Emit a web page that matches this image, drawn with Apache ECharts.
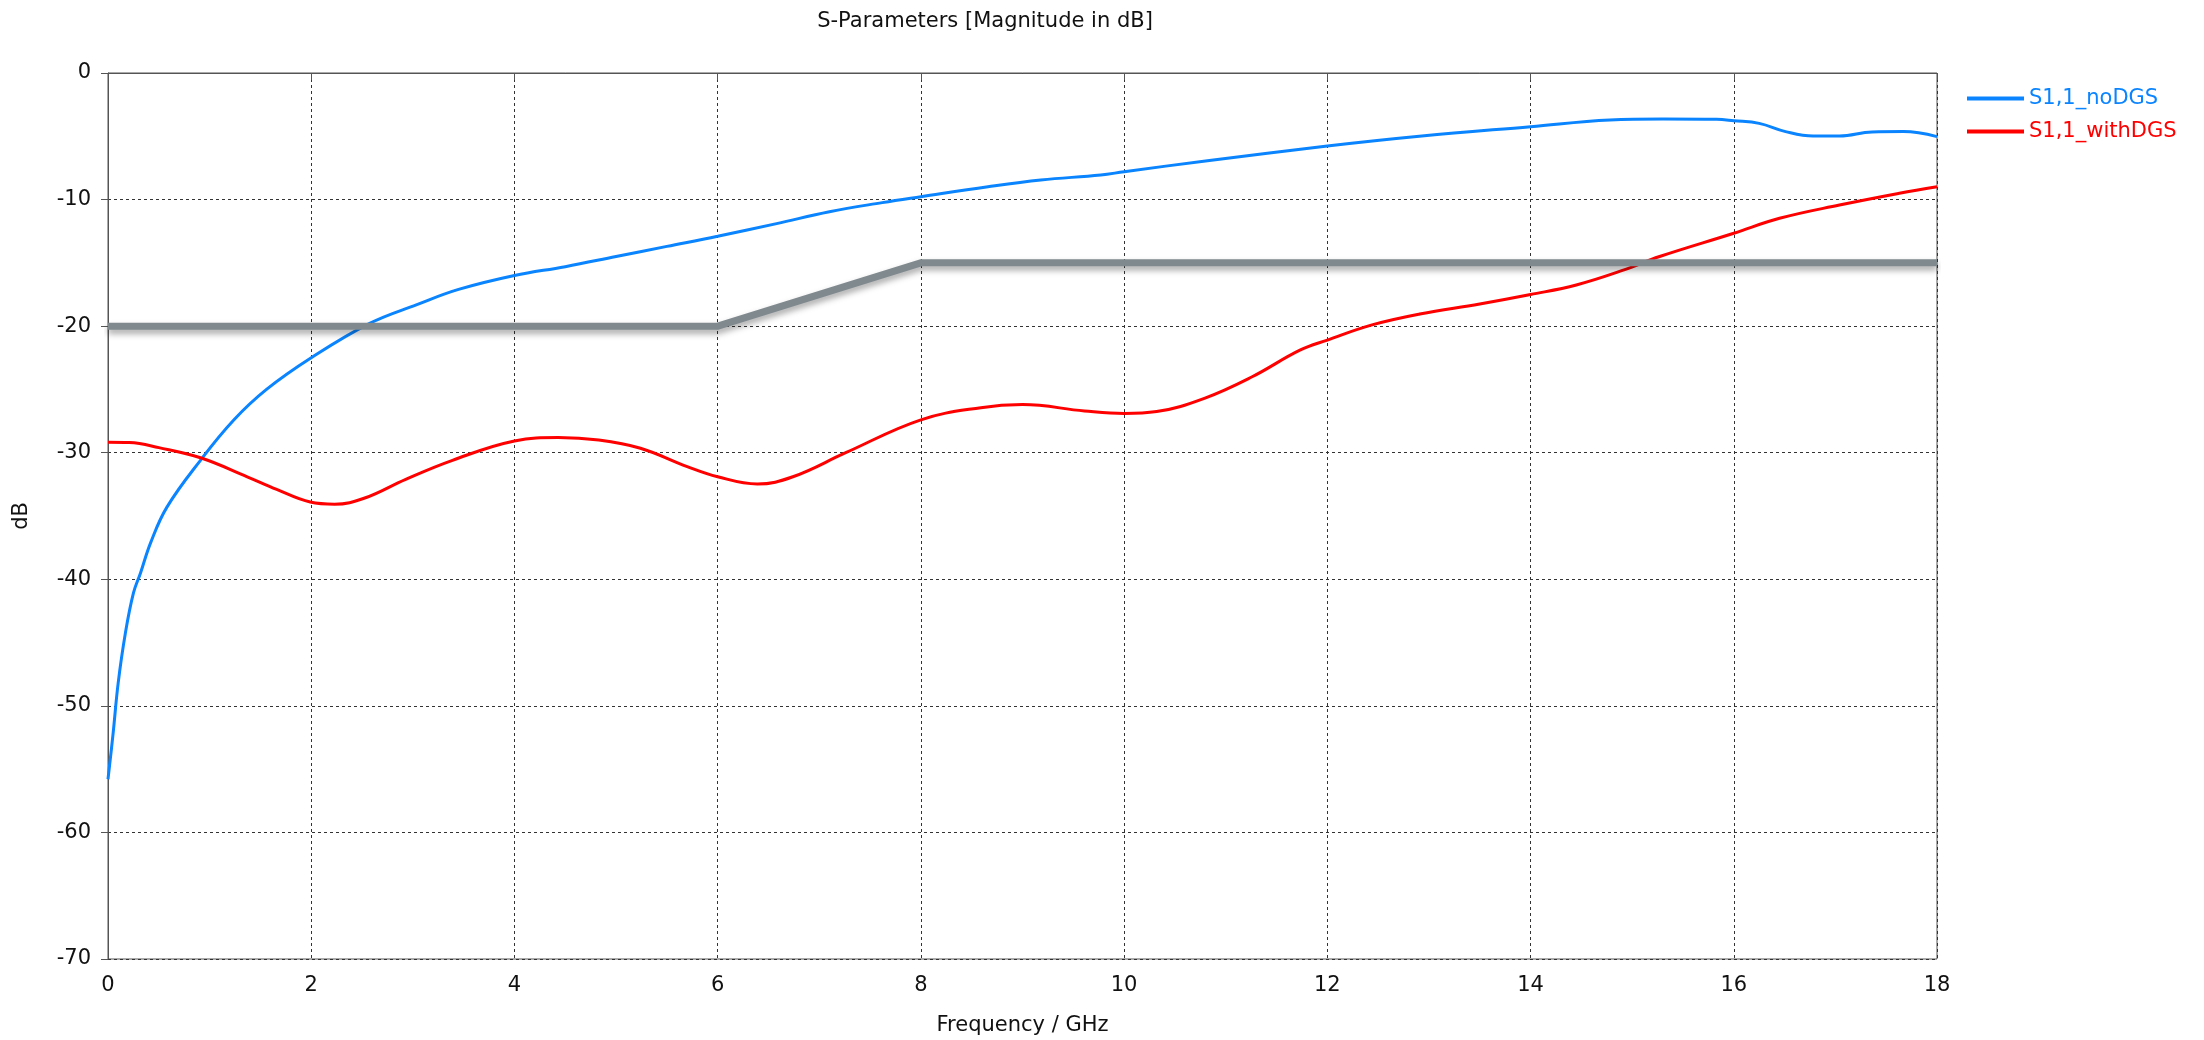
<!DOCTYPE html>
<html>
<head>
<meta charset="utf-8">
<title>S-Parameters</title>
<script src="https://cdn.jsdelivr.net/npm/echarts@6/dist/echarts.min.js"></script>
<style>
  html, body { margin: 0; padding: 0; background: #ffffff; }
  #chart { width: 2204px; height: 1040px; }
</style>
</head>
<body>
<div id="chart"></div>
<script>
// S1,1 without defected ground structure: frequency (GHz) and magnitude (dB)
const noDgsFreq = [0, 0.05, 0.1, 0.17, 0.25, 0.32, 0.42, 0.58, 0.91, 1.24, 1.56, 2.0, 2.57, 3.04, 3.45, 4.0, 4.5, 5.0, 5.5, 6.0, 6.58, 7.1, 7.62, 8.0, 8.66, 9.18, 9.77, 10.0, 10.82, 12.0, 12.93, 14.0, 14.78, 15.3, 15.83, 16.0, 16.25, 16.51, 16.78, 17.04, 17.36, 17.67, 18.0];
const noDgsDb = [-55.8, -52.2, -48.2, -44.3, -41.1, -39.5, -37.1, -34.3, -30.6, -27.4, -25.0, -22.5, -19.8, -18.3, -17.1, -16.0, -15.3, -14.5, -13.7, -12.9, -11.9, -10.96, -10.24, -9.77, -8.98, -8.45, -8.06, -7.8, -6.93, -5.77, -4.98, -4.24, -3.71, -3.63, -3.66, -3.77, -3.98, -4.63, -4.98, -4.98, -4.66, -4.63, -5.03];

// S1,1 with defected ground structure
const withDgsFreq = [0, 0.21, 0.5, 0.91, 1.37, 1.66, 1.99, 2.23, 2.52, 2.93, 3.39, 4.0, 4.43, 4.83, 5.24, 5.7, 6.0, 6.39, 6.74, 7.26, 8.0, 8.59, 9.0, 9.61, 10.0, 10.32, 10.79, 11.26, 11.73, 12.0, 12.44, 12.91, 13.5, 14.0, 14.45, 14.92, 15.27, 16.0, 16.45, 17.04, 17.63, 18.0];
const withDgsDb = [-29.17, -29.2, -29.6, -30.4, -31.9, -32.9, -33.9, -34.07, -33.6, -32.1, -30.6, -29.07, -28.8, -29.0, -29.65, -31.1, -31.9, -32.47, -31.9, -30.0, -27.4, -26.44, -26.2, -26.7, -26.9, -26.75, -25.7, -24.0, -21.9, -21.1, -19.9, -19.04, -18.25, -17.5, -16.75, -15.56, -14.5, -12.66, -11.48, -10.43, -9.5, -8.98];

// Return-loss specification mask
const maskFreq = [0, 6, 8, 18];
const maskDb = [-20, -20, -15, -15];

const seriesNames = ['S1,1_noDGS', 'S1,1_withDGS'];
const seriesColors = ['#0a84ff', '#ff0000'];

const pairs = (xs, ys) => xs.map((x, i) => [x, ys[i]]);

const FONT = '"DejaVu Sans", sans-serif';
const FS = 21;

const chart = echarts.init(document.getElementById('chart'), null, { renderer: 'canvas' });

chart.setOption({
  animation: false,
  backgroundColor: '#ffffff',
  title: {
    text: 'S-Parameters [Magnitude in dB]',
    left: 980,
    top: 6,
    textAlign: 'center',
    textStyle: { fontFamily: FONT, fontSize: FS, fontWeight: 'normal', color: '#111' }
  },
  legend: {
    orient: 'vertical',
    left: 1962,
    top: 83,
    itemWidth: 57,
    itemHeight: 4,
    itemGap: 12,
    icon: 'rect',
    textStyle: { fontFamily: FONT, fontSize: FS },
    data: seriesNames.map((n, i) => ({ name: n, textStyle: { color: seriesColors[i] } }))
  },
  grid: {
    left: 108, right: 267, top: 73, bottom: 81,
    outerBoundsMode: 'none',
    show: true, borderColor: '#555', borderWidth: 1
  },
  xAxis: {
    type: 'value',
    min: 0, max: 18, interval: 2,
    name: 'Frequency / GHz',
    nameLocation: 'middle',
    nameGap: 56,
    nameTextStyle: { fontFamily: FONT, fontSize: FS, color: '#111' },
    axisLine: { show: true, lineStyle: { color: '#555', width: 1 } },
    axisTick: { show: true, length: 7, lineStyle: { color: '#555' } },
    axisLabel: { fontFamily: FONT, fontSize: FS, color: '#111', margin: 16 },
    splitLine: { show: true, lineStyle: { color: '#333', type: [3, 3], width: 1 } }
  },
  yAxis: {
    type: 'value',
    min: -70, max: 0, interval: 10,
    name: 'dB',
    nameLocation: 'middle',
    nameGap: 76,
    nameTextStyle: { fontFamily: FONT, fontSize: FS, color: '#111' },
    axisLine: { show: true, lineStyle: { color: '#555', width: 1 } },
    axisTick: { show: true, length: 7, lineStyle: { color: '#555' } },
    axisLabel: { fontFamily: FONT, fontSize: FS, color: '#111', margin: 17 },
    splitLine: { show: true, lineStyle: { color: '#333', type: [3, 3], width: 1 } }
  },
  series: [
    {
      name: seriesNames[0],
      type: 'line',
      data: pairs(noDgsFreq, noDgsDb),
      showSymbol: false,
      smooth: 0.4,
      lineStyle: { color: seriesColors[0], width: 3 },
      itemStyle: { color: seriesColors[0] },
      z: 3
    },
    {
      name: seriesNames[1],
      type: 'line',
      data: pairs(withDgsFreq, withDgsDb),
      showSymbol: false,
      smooth: 0.4,
      lineStyle: { color: seriesColors[1], width: 3 },
      itemStyle: { color: seriesColors[1] },
      z: 3
    },
    {
      name: 'mask',
      type: 'line',
      data: pairs(maskFreq, maskDb),
      showSymbol: false,
      silent: true,
      lineStyle: {
        color: '#7f898e', width: 7, cap: 'butt', join: 'miter',
        shadowColor: 'rgba(0,0,0,0.35)', shadowBlur: 6, shadowOffsetY: 4
      },
      itemStyle: { color: '#7f898e' },
      z: 4
    }
  ]
});
</script>
</body>
</html>
